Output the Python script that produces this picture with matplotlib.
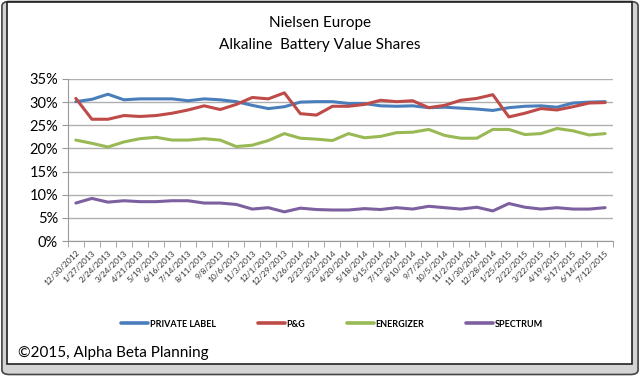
import matplotlib
matplotlib.use("Agg")
import matplotlib.pyplot as plt
from matplotlib.patches import FancyBboxPatch, Rectangle

# 4-weekly periods
dates = ["12/30/2012", "1/27/2013", "2/24/2013", "3/24/2013", "4/21/2013", "5/19/2013",
         "6/16/2013", "7/14/2013", "8/11/2013", "9/8/2013", "10/6/2013", "11/3/2013",
         "12/1/2013", "12/29/2013", "1/26/2014", "2/23/2014", "3/23/2014", "4/20/2014",
         "5/18/2014", "6/15/2014", "7/13/2014", "8/10/2014", "9/7/2014", "10/5/2014",
         "11/2/2014", "11/30/2014", "12/28/2014", "1/25/2015", "2/22/2015", "3/22/2015",
         "4/19/2015", "5/17/2015", "6/14/2015", "7/12/2015"]

private_label = [30.1, 30.6, 31.7, 30.5, 30.7, 30.7, 30.7, 30.3, 30.7, 30.5, 30.1, 29.3,
                 28.6, 29.0, 30.0, 30.1, 30.1, 29.7, 29.7, 29.2, 29.1, 29.2, 28.8, 28.9,
                 28.7, 28.5, 28.2, 28.8, 29.1, 29.2, 28.9, 29.8, 30.0, 30.1]
pg = [30.8, 26.3, 26.3, 27.1, 26.9, 27.1, 27.6, 28.3, 29.2, 28.4, 29.5, 31.0,
      30.7, 32.0, 27.5, 27.2, 29.1, 29.1, 29.5, 30.4, 30.1, 30.3, 28.8, 29.3,
      30.4, 30.8, 31.6, 26.8, 27.6, 28.6, 28.3, 29.0, 29.8, 29.9]
energizer = [21.8, 21.1, 20.3, 21.4, 22.1, 22.4, 21.8, 21.8, 22.1, 21.8, 20.4, 20.7,
             21.7, 23.2, 22.2, 22.0, 21.7, 23.2, 22.3, 22.6, 23.4, 23.5, 24.1, 22.8,
             22.2, 22.2, 24.1, 24.1, 23.0, 23.2, 24.3, 23.8, 22.9, 23.2]
spectrum = [8.2, 9.2, 8.4, 8.7, 8.5, 8.5, 8.7, 8.7, 8.2, 8.2, 7.9, 6.9,
            7.2, 6.3, 7.1, 6.8, 6.7, 6.7, 7.0, 6.8, 7.2, 6.9, 7.5, 7.2,
            6.9, 7.3, 6.5, 8.1, 7.3, 6.9, 7.2, 6.9, 6.9, 7.2]

series = [("PRIVATE LABEL", private_label, "#4a7ebb"),
          ("P&G", pg, "#be4b48"),
          ("ENERGIZER", energizer, "#98b954"),
          ("SPECTRUM", spectrum, "#7d60a0")]

plt.rcParams['font.family'] = ['Lato', 'DejaVu Sans']

fig = plt.figure(figsize=(6.4, 3.76), dpi=100)
fig.patch.set_facecolor("white")

# outer grey frame and white chart box (behind the axes)
fig.patches.append(FancyBboxPatch((0.003, 0.004), 0.994, 0.992,
                                  boxstyle="round,pad=0,rounding_size=0.012",
                                  transform=fig.transFigure, facecolor="#d4d4d4",
                                  edgecolor="#444444", linewidth=1.2, zorder=-3))
fig.patches.append(Rectangle((0.011, 0.032), 0.977, 0.962, transform=fig.transFigure,
                             facecolor="white", edgecolor="#222222", linewidth=1.2, zorder=-2))

ax = fig.add_axes([0.106, 0.359, 0.852, 0.431])
ax.set_facecolor("none")
x = list(range(len(dates)))
for name, vals, color in series:
    ax.plot(x, vals, color=color, linewidth=2.2, label=name, solid_capstyle="round")

ax.set_ylim(0, 35)
ax.set_yticks(range(0, 36, 5))
ax.set_yticklabels([f"{v}%" for v in range(0, 36, 5)], fontsize=10.5)
ax.yaxis.grid(True, color="#b0b0b0", linewidth=1)
ax.set_axisbelow(True)

ax.set_xlim(-0.5, len(dates) - 0.5)
ax.set_xticks(x)
ax.set_xticklabels(dates, rotation=45, ha="right", rotation_mode="anchor",
                   fontsize=6, color="#333333")
ax.set_xticks([i - 0.5 for i in range(len(dates) + 1)], minor=True)
ax.tick_params(axis="x", which="major", length=0, pad=6)
ax.tick_params(axis="x", which="minor", length=4, color="#999999")
ax.tick_params(axis="y", length=4, color="#999999", pad=3)

for side in ["top", "right"]:
    ax.spines[side].set_visible(False)
ax.spines["left"].set_color("#999999")
ax.spines["bottom"].set_color("#999999")

fig.text(0.5, 0.94, "Nielsen Europe", ha="center", va="center", fontsize=11)
fig.text(0.5, 0.88, "Alkaline  Battery Value Shares", ha="center", va="center", fontsize=11)

leg = fig.legend(loc="center", bbox_to_anchor=(0.519, 0.138), ncol=4, frameon=False,
                 handlelength=3.0, columnspacing=4.6, handletextpad=0.2,
                 prop={"size": 6.5, "weight": "bold"})
for line in leg.get_lines():
    line.set_linewidth(2.6)

fig.text(0.028, 0.062, "\u00a92015, Alpha Beta Planning", ha="left", va="center", fontsize=11)

fig.savefig("out.png", dpi=100)
